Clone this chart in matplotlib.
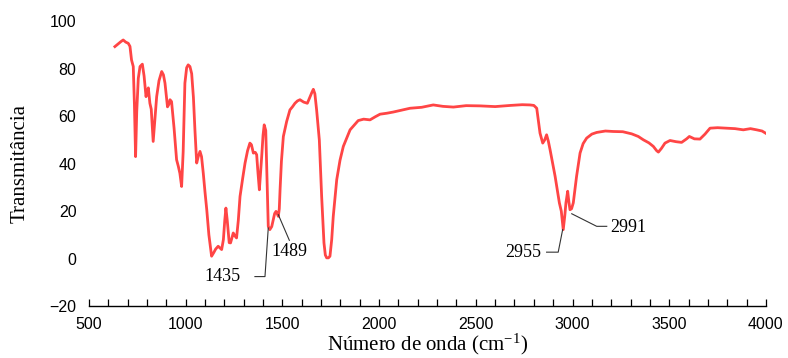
import matplotlib
matplotlib.use('Agg')
import matplotlib.pyplot as plt
from matplotlib.ticker import MultipleLocator

plt.rcParams['mathtext.fontset'] = 'custom'
plt.rcParams['mathtext.rm'] = 'Liberation Serif'
plt.rcParams['mathtext.it'] = 'Liberation Serif:italic'

wavenumber = [634, 650, 665, 677, 690, 703, 712, 720, 729, 735, 741, 747, 755, 764, 776, 785, 795, 800, 807,
              815, 822, 832, 840, 850, 862, 876, 885, 893, 906, 913, 919, 927, 940, 953, 962, 970, 979, 987,
              996, 1005, 1013, 1022, 1031, 1040, 1048, 1057, 1065, 1074, 1082, 1091, 1100, 1109, 1120, 1134,
              1145, 1155, 1168, 1177, 1186, 1195, 1202, 1208, 1215, 1225, 1232, 1240, 1246, 1255, 1263, 1272,
              1281, 1295, 1307, 1320, 1332, 1340, 1350, 1360, 1367, 1374, 1381, 1387, 1393, 1400, 1406, 1414,
              1420, 1427, 1435, 1445, 1453, 1460, 1467, 1473, 1479, 1484, 1488, 1495, 1505, 1522, 1539, 1552,
              1565, 1578, 1591, 1610, 1629, 1643, 1652, 1660, 1668, 1677, 1691, 1703, 1715, 1722, 1729, 1738,
              1746, 1755, 1763, 1781, 1798, 1815, 1850, 1892, 1920, 1953, 1980, 2005, 2040, 2073, 2110, 2160,
              2220, 2280, 2330, 2384, 2450, 2522, 2600, 2680, 2740, 2780, 2800, 2815, 2832, 2846, 2856, 2866,
              2875, 2884, 2910, 2932, 2942, 2952, 2960, 2966, 2975, 2981, 2987, 2995, 3004, 3021, 3039, 3055,
              3073, 3100, 3125, 3170, 3211, 3260, 3306, 3340, 3366, 3395, 3418, 3435, 3444, 3460, 3478, 3504,
              3535, 3564, 3590, 3604, 3630, 3659, 3685, 3711, 3750, 3797, 3840, 3883, 3920, 3952, 3980, 4000]
transmittance = [89.4, 90.5, 91.5, 92.2, 91.3, 90.8, 89.5, 83.8, 81, 65, 43, 62, 76, 81, 82, 77, 68.3, 70, 72,
                 65.5, 63, 49.4, 58, 68.3, 75, 78.9, 77.5, 74, 64, 65, 67, 66.2, 55, 41.7, 38.9, 36, 30.4, 45,
                 74, 80.5, 81.7, 81, 78, 68, 54, 40.3, 43, 45.2, 43, 36, 28, 20.6, 10, 1,
                 2.5, 4, 5.2, 4.5, 3.8, 8, 16, 21.3, 16, 6.7, 6.6, 9, 10.8, 9.5, 8.7, 16,
                 26.2, 34, 40.3, 45.5, 48.7, 48, 44.5, 44.8, 43.8, 36, 29, 36, 43, 52, 56.4, 54,
                 35, 13.6, 12.2, 13.5, 16.4, 19, 19.9, 19, 17.8, 21, 29, 41, 51.5, 57.8, 62.7, 64,
                 65.5, 66.5, 67, 66, 65.5, 68.3, 70, 71.4, 69.5, 62.7, 50, 26.2, 6.6, 1.5, 0.3, 0.3,
                 1, 8, 17.8, 33.3, 41.5, 47.3, 54.3, 58.2, 58.8, 58.5, 59.8, 60.9, 61.3, 61.8, 62.5, 63.4,
                 63.8, 64.8, 64.2, 63.9, 64.5, 64.4, 64.1, 64.6, 64.9, 64.8, 64.6, 63.4, 52.9, 48.7, 50, 52.2,
                 49.5, 45.9, 34.7, 23.5, 20, 12.2, 18, 23.5, 28.4, 24, 20.6, 21, 23.5, 34.7, 44.5, 48.5,
                 50.8, 52.5, 53.2, 53.8, 53.6, 53.5, 52.6, 51.5, 50.1, 48.8, 47.3, 45.5, 44.9, 46.5, 48.7, 49.8,
                 49.3, 49, 50.5, 51.5, 50.5, 50.4, 52.5, 55, 55.2, 55, 54.8, 54.3, 54.8, 54.3, 53.8, 52.8]

peak_labels = ['1435', '1489', '2955', '2991']
# leader polylines (x list, y list) and text anchors
leader_x = [[1358, 1410, 1427], [1479, 1536], [2866, 2926, 2949], [2996, 3125, 3177]]
leader_y = [[-7.6, -7.6, 12.9], [18.5, 7.7], [2.7, 2.7, 12.2], [18.9, 13.6, 13.6]]
label_x = [1188, 1534, 2744, 3287]
label_y = [-7.6, 3.1, 2.5, 13.3]

fig = plt.figure(figsize=(7.88, 3.58), dpi=100)
ax = fig.add_axes([0.1129, 0.1453, 0.972 - 0.1129, 0.94 - 0.1453])

ax.plot(wavenumber, transmittance, color='#FF4545', lw=2.0, solid_joinstyle='round', zorder=3)

for lx, ly in zip(leader_x, leader_y):
    ax.plot(lx, ly, color='#333333', lw=0.8, zorder=4)
for t, x, y in zip(peak_labels, label_x, label_y):
    ax.text(x, y, t, ha='center', va='center', fontsize=13, family='Liberation Serif', color='black')

ax.set_xlim(500, 4000)
ax.set_ylim(-20, 100)
ax.xaxis.set_major_locator(MultipleLocator(500))
ax.xaxis.set_minor_locator(MultipleLocator(100))
ax.yaxis.set_major_locator(MultipleLocator(20))

for s in ['top', 'right', 'left']:
    ax.spines[s].set_visible(False)
ax.spines['bottom'].set_linewidth(1.0)
ax.tick_params(axis='x', which='major', direction='in', length=5, width=0.9, pad=8, labelsize=11.5)
ax.tick_params(axis='x', which='minor', direction='in', length=5, width=0.9)
ax.tick_params(axis='y', length=0, pad=9, labelsize=11.5)
for lab in ax.get_xticklabels() + ax.get_yticklabels():
    lab.set_family('Liberation Sans')

ax.set_xlabel('Número de onda (cm$^{\\mathrm{-1}}$)', family='Liberation Serif', fontsize=15)
ax.xaxis.set_label_coords(0.5, -0.09)
ax.set_ylabel('Transmitância', family='Liberation Serif', fontsize=15, labelpad=14)

fig.savefig('out.png', dpi=100)
